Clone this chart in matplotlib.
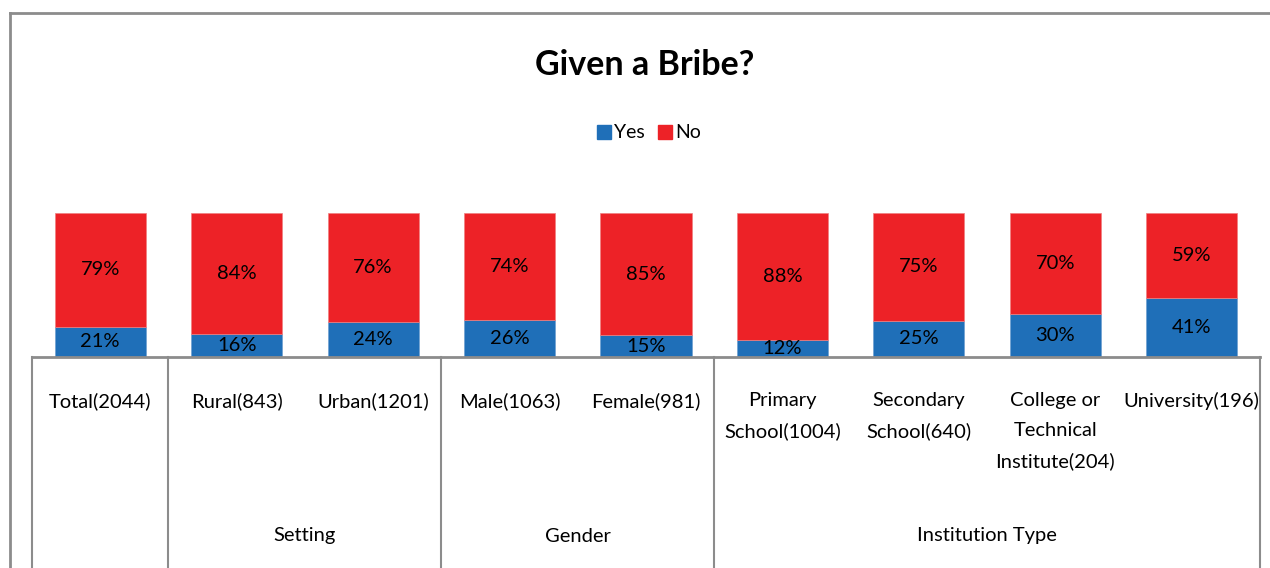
import matplotlib
matplotlib.use("Agg")
import matplotlib.pyplot as plt
from matplotlib.lines import Line2D
from matplotlib.patches import Patch
import matplotlib.transforms as mtransforms

plt.rcParams["font.family"] = ["Lato", "DejaVu Sans"]

categories = [
    "Total(2044)", "Rural(843)", "Urban(1201)", "Male(1063)", "Female(981)",
    "Primary\nSchool(1004)", "Secondary\nSchool(640)",
    "College or\nTechnical\nInstitute(204)", "University(196)",
]
yes_pct = [21, 16, 24, 26, 15, 12, 25, 30, 41]
no_pct = [79, 84, 76, 74, 85, 88, 75, 70, 59]

# (label, first index, last index) for the second row of the category axis
groups = [("Setting", 1, 2), ("Gender", 3, 4), ("Institution Type", 5, 8)]
separators = [-0.5, 0.5, 2.5, 4.5, 8.5]

YES_COLOR = "#1f6fb8"
NO_COLOR = "#ed2227"
GRID_GRAY = "#8c8c8c"
LABEL_SIZE = 14.5

W, H = 1270, 568
fig = plt.figure(figsize=(W / 100, H / 100), dpi=100)

axis_y, top_y = 357, 213
left_x, right_x = 32, 1260
ax = fig.add_axes([left_x / W, 1 - axis_y / H, (right_x - left_x) / W, (axis_y - top_y) / H])
ax.set_xlim(-0.5, len(categories) - 0.5)
ax.set_ylim(0, 100)
for s in ax.spines.values():
    s.set_visible(False)
ax.set_xticks([])
ax.set_yticks([])

x = range(len(categories))
ax.bar(x, yes_pct, width=0.667, color=YES_COLOR, edgecolor="#6fa0d0", linewidth=0.5, label="Yes")
ax.bar(x, no_pct, width=0.667, bottom=yes_pct, color=NO_COLOR, edgecolor="#f08080", linewidth=0.5, label="No")

for i in x:
    ax.text(i, yes_pct[i] / 2, f"{yes_pct[i]}%", ha="center", va="center",
            fontsize=LABEL_SIZE, clip_on=False)
    ax.text(i, yes_pct[i] + no_pct[i] / 2, f"{no_pct[i]}%", ha="center", va="center",
            fontsize=LABEL_SIZE)

# category axis drawn below the plot area, in pixel offsets from the axis line
span = axis_y - top_y
trans = mtransforms.blended_transform_factory(ax.transData, ax.transAxes)
ax.plot([-0.5, 8.5], [0, 0], color=GRID_GRAY, lw=2, transform=trans, clip_on=False)
for sx in separators:
    ax.plot([sx, sx], [0, -(H - axis_y) / span], color=GRID_GRAY, lw=1.5,
            transform=trans, clip_on=False)

for i, lab in enumerate(categories):
    ax.text(i, -35 / span, lab, transform=trans, ha="center", va="top",
            fontsize=LABEL_SIZE, linespacing=1.9, clip_on=False)

for name, a, b in groups:
    ax.text((a + b) / 2, -179 / span, name, transform=trans, ha="center",
            va="center", fontsize=LABEL_SIZE, clip_on=False)

fig.text(645 / W, 1 - 65 / H, "Given a Bribe?", ha="center", va="center",
         fontsize=24.5, fontweight="bold")

handles = [Patch(color=YES_COLOR, label="Yes"), Patch(color=NO_COLOR, label="No")]
fig.legend(handles=handles, loc="center", bbox_to_anchor=(649 / W, 1 - 133 / H), ncol=2,
           frameon=False, fontsize=14, handlelength=0.7, handleheight=0.7,
           handletextpad=0.15, columnspacing=0.7)

# outer chart border (top and left edges)
fig.add_artist(Line2D([10 / W, 1.0], [1 - 12.5 / H, 1 - 12.5 / H], color=GRID_GRAY, lw=2,
                      transform=fig.transFigure))
fig.add_artist(Line2D([10 / W, 10 / W], [0, 1 - 12.5 / H], color=GRID_GRAY, lw=2,
                      transform=fig.transFigure))

fig.savefig("out.png", dpi=100)
